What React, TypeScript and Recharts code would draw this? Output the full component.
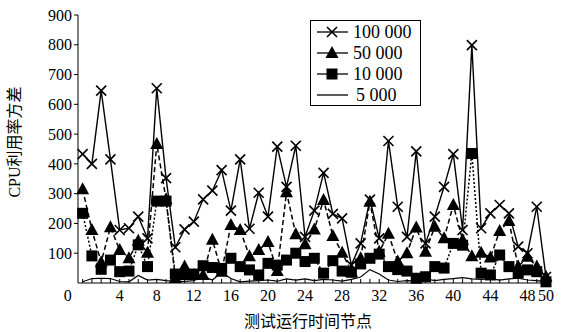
import React from "react";
import { LineChart, Line, XAxis, YAxis, Legend } from "recharts";

// CPU utilisation variance per test node, one list per load level
const series100k = [
  433, 400, 646, 415, 178, 184, 223, 150, 654, 352, 120, 180, 206, 281, 310, 379, 243,
  415, 182, 303, 223, 458, 323, 461, 155, 243, 370, 232, 217, 60, 133, 280, 150, 477,
  256, 155, 442, 133, 223, 323, 433, 178, 799, 184, 234, 262, 234, 122, 100, 256, 20,
];
const series50k = [
  315, 178, 70, 187, 111, 83, 142, 102, 467, 281, 17, 55, 27, 27, 145, 38, 195, 178,
  90, 111, 138, 40, 305, 164, 130, 180, 279, 158, 102, 38, 83, 273, 105, 165, 72, 100,
  186, 105, 189, 150, 262, 144, 90, 102, 86, 175, 208, 55, 88, 55, 21,
];
const series10k = [
  234, 91, 46, 77, 38, 40, 128, 55, 275, 275, 30, 28, 30, 58, 52, 49, 83, 55, 44, 27,
  66, 60, 77, 100, 72, 83, 33, 75, 40, 36, 64, 83, 97, 55, 45, 40, 16, 21, 55, 50, 133,
  127, 435, 33, 27, 94, 55, 33, 44, 38, 4,
];
const series5k = [
  4, 15, 16, 15, 5, 4, 25, 10, 12, 8, 5, 5, 8, 22, 10, 35, 15, 4, 6, 8, 10, 6, 14, 10,
  14, 8, 12, 10, 6, 12, 20, 45, 30, 10, 5, 8, 6, 14, 8, 12, 15, 18, 14, 12, 15, 10, 14,
  16, 10, 8, 4,
];

const seriesNames = ["100 000", "50 000", "10 000", "5 000"];
const xLabelTicks = [0, 4, 8, 12, 16, 20, 24, 28, 32, 36, 40, 44, 48, 50];
const yTicks = [100, 200, 300, 400, 500, 600, 700, 800, 900];

const data = series100k.map((v, i) => ({
  node: i,
  s100k: v,
  s50k: series50k[i],
  s10k: series10k[i],
  s5k: series5k[i],
}));

const FONT = "'Liberation Serif', 'Noto Sans CJK SC', serif";

const CrossDot = (props: any) => {
  const { cx, cy, index } = props;
  if (cx == null || cy == null) return null;
  const r = 5;
  return (
    <g key={`x-${index}`}>
      <line x1={cx - r} y1={cy - r} x2={cx + r} y2={cy + r} stroke="#000" strokeWidth={1.6} />
      <line x1={cx - r} y1={cy + r} x2={cx + r} y2={cy - r} stroke="#000" strokeWidth={1.6} />
    </g>
  );
};

const TriangleDot = (props: any) => {
  const { cx, cy, index } = props;
  if (cx == null || cy == null) return null;
  return (
    <polygon
      key={`t-${index}`}
      points={`${cx},${cy - 7} ${cx - 6.5},${cy + 5} ${cx + 6.5},${cy + 5}`}
      fill="#000"
    />
  );
};

const SquareDot = (props: any) => {
  const { cx, cy, index } = props;
  if (cx == null || cy == null) return null;
  return <rect key={`s-${index}`} x={cx - 5.5} y={cy - 5.5} width={11} height={11} fill="#000" />;
};

const NodeTick = (props: any) => {
  const { x, y, payload } = props;
  const v = payload.value;
  const showLabel = xLabelTicks.includes(v);
  return (
    <g>
      <line x1={x} y1={y} x2={x} y2={y - 4} stroke="#000" />
      {showLabel && (
        <text
          x={x + (v === 0 ? -15 : 0)}
          y={y + 7}
          dy="0.71em"
          textAnchor="middle"
          fontSize={16}
          fontFamily={FONT}
          fill="#000"
        >
          {v}
        </text>
      )}
    </g>
  );
};

const LegendBox = () => {
  const rows = [0, 1, 2, 3];
  return (
    <svg width={111} height={86}>
      <rect x={0.5} y={0.5} width={110} height={85} fill="#fff" stroke="#000" />
      {rows.map((r) => {
        const y = 12 + r * 21;
        const cx = 22;
        return (
          <g key={r}>
            <line x1={7} y1={y} x2={38} y2={y} stroke="#000" strokeWidth={1.3} />
            {r === 0 && <CrossDot cx={cx} cy={y} />}
            {r === 1 && <TriangleDot cx={cx} cy={y} />}
            {r === 2 && <SquareDot cx={cx} cy={y} />}
            <text
              x={r === 3 ? 46 : 43}
              y={y}
              dy="0.35em"
              fontSize={18}
              fontFamily={FONT}
              fill="#000"
            >
              {seriesNames[r]}
            </text>
          </g>
        );
      })}
    </svg>
  );
};

export default function App() {
  return (
    <div style={{ position: "absolute", left: 0, top: 0, background: "#fff" }}>
      <LineChart
        width={571}
        height={332}
        data={data}
        margin={{ top: 15, right: 25, bottom: 0, left: 0 }}
      >
        <XAxis
          dataKey="node"
          type="number"
          domain={[-0.5, 50]}
          ticks={data.map((d) => d.node)}
          interval={0}
          tickLine={false}
          tickSize={0}
          tickMargin={0}
          axisLine={{ stroke: "#000" }}
          height={49}
          tick={<NodeTick />}
          label={{
            content: () => (
              <text x={308} y={321} dy="0.35em" textAnchor="middle" fontSize={16} fontFamily={FONT} fill="#000">
                测试运行时间节点
              </text>
            ),
          }}
        />
        <YAxis
          type="number"
          domain={[0, 900]}
          ticks={yTicks}
          interval={0}
          width={78}
          tickSize={4}
          tickMargin={2}
          axisLine={{ stroke: "#000" }}
          tickLine={{ stroke: "#000" }}
          tick={{ fill: "#000", fontSize: 16, fontFamily: FONT }}
          label={{
            content: () => (
              <text
                x={14}
                y={142}
                dy="0.35em"
                textAnchor="middle"
                fontSize={16}
                fontFamily={FONT}
                fill="#000"
                transform="rotate(-90 14 142)"
              >
                CPU利用率方差
              </text>
            ),
          }}
        />
        <Legend
          layout="vertical"
          align="center"
          verticalAlign="middle"
          content={<LegendBox />}
          wrapperStyle={{ left: 310, top: 20, width: 111, height: 86 }}
        />
        <Line
          type="linear"
          dataKey="s100k"
          name={seriesNames[0]}
          stroke="#000"
          strokeWidth={1.4}
          dot={CrossDot}
          activeDot={false}
          isAnimationActive={false}
        />
        <Line
          type="linear"
          dataKey="s50k"
          name={seriesNames[1]}
          stroke="#000"
          strokeWidth={1.5}
          strokeDasharray="5 3"
          dot={TriangleDot}
          activeDot={false}
          isAnimationActive={false}
        />
        <Line
          type="linear"
          dataKey="s10k"
          name={seriesNames[2]}
          stroke="#000"
          strokeWidth={1.5}
          strokeDasharray="2 2"
          dot={SquareDot}
          activeDot={false}
          isAnimationActive={false}
        />
        <Line
          type="linear"
          dataKey="s5k"
          name={seriesNames[3]}
          stroke="#000"
          strokeWidth={1.2}
          dot={false}
          activeDot={false}
          isAnimationActive={false}
        />
      </LineChart>
    </div>
  );
}
